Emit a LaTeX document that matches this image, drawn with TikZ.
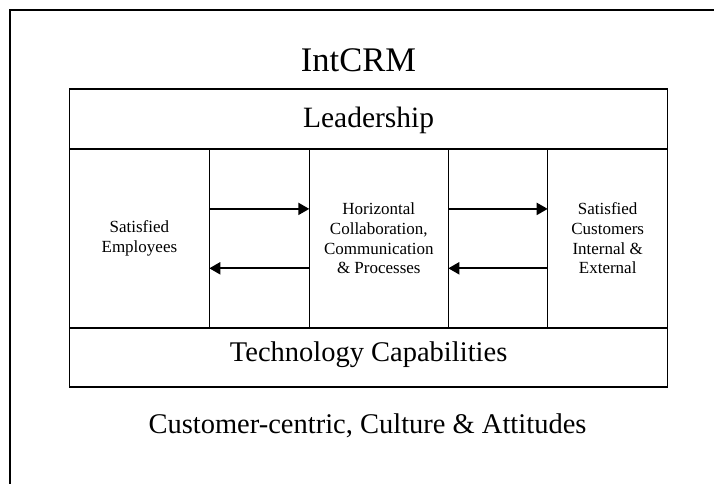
\documentclass[tikz,border=0pt]{standalone}
\usepackage{fontspec}
\setmainfont{Liberation Serif}
\usetikzlibrary{arrows.meta}
\begin{document}
\begin{tikzpicture}[x=1pt,y=-1pt,
  cell/.style={draw,line width=1.5pt,inner sep=0pt,outer sep=0pt,rectangle,align=center,
    font=\fontsize{17}{19.7}\selectfont},
  bigcell/.style={cell,font=\fontsize{29.5}{34}\selectfont},
  arr/.style={line width=2pt,-{Triangle[length=11pt,width=12pt]}},
  frame/.style={line width=1.6pt}]
\useasboundingbox (0,0) rectangle (714,484);
\coordinate (fb) at (10,484);
\coordinate (ft) at (10,10);
\coordinate (fr) at (714,10);
\draw[frame] (fb) -- (ft) -- (fr);
\node[font=\fontsize{34.5}{40}\selectfont,anchor=base] (title) at (358.5,71.7) {IntCRM};
\node[bigcell,minimum width=598.2pt,minimum height=60pt,text height=22pt,text depth=5.4pt] (lead) at (368.6,119) {Leadership};
\node[cell,minimum width=139.8pt,minimum height=179pt] (c1) at (139.4,238.5) {Satisfied\\Employees};
\node[cell,minimum width=100pt,minimum height=179pt] (c2) at (259.3,238.5) {};
\node[cell,minimum width=139pt,minimum height=179pt] (c3) at (378.8,238.5) {Horizontal\\Collaboration,\\Communication\\\& Processes};
\node[cell,minimum width=99.4pt,minimum height=179pt] (c4) at (498,238.5) {};
\node[cell,minimum width=120pt,minimum height=179pt] (c5) at (607.7,238.5) {Satisfied\\Customers\\Internal \&\\External};
\node[bigcell,font=\fontsize{28.5}{33}\selectfont,minimum width=598.2pt,minimum height=59pt,text height=20pt,text depth=11.6pt] (tech) at (368.6,357.5) {Technology Capabilities};
\node[font=\fontsize{28.5}{33}\selectfont,anchor=base] (culture) at (367.5,433.5) {Customer-centric, Culture \& Attitudes};
\draw[arr] ([yshift=29.6pt]c2.west) -- ([yshift=29.6pt]c2.east);
\draw[arr] ([yshift=-29.8pt]c2.east) -- ([yshift=-29.8pt]c2.west);
\draw[arr] ([yshift=29.6pt]c4.west) -- ([yshift=29.6pt]c4.east);
\draw[arr] ([yshift=-29.8pt]c4.east) -- ([yshift=-29.8pt]c4.west);
\end{tikzpicture}
\end{document}
